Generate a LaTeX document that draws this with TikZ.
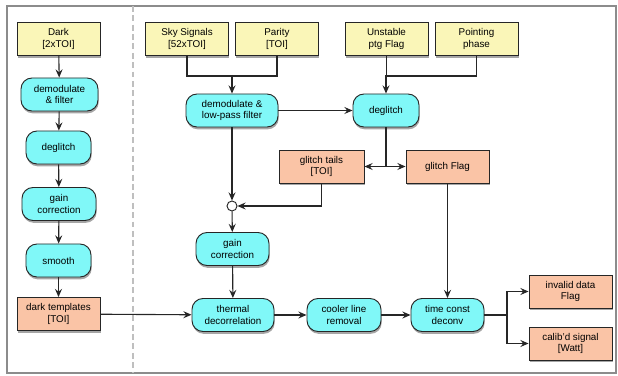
\documentclass[tikz,border=0pt]{standalone}
\usepackage{fontspec}
\setmainfont{Liberation Sans}
\usetikzlibrary{arrows.meta,shadows}

\definecolor{inyellow}{RGB}{250,246,184}
\definecolor{stepcyan}{RGB}{128,248,248}
\definecolor{outsalmon}{RGB}{250,196,166}

\tikzset{
  box/.style={draw=black!85, line width=0.8pt, align=center,
    font=\fontsize{8.4}{9.6}\selectfont, inner sep=1pt,
    minimum height=0.99cm,
    drop shadow={shadow xshift=0.6pt, shadow yshift=-2pt, opacity=0.35, fill=black}},
  inbox/.style={box, fill=inyellow, minimum width=2.49cm},
  outbox/.style={box, fill=outsalmon, minimum width=2.49cm},
  proc/.style={box, fill=stepcyan, rounded corners=0.33cm},
  link/.style={line width=0.95pt, black!85}
}

\begin{document}
\begin{tikzpicture}[x=0.03cm, y=-0.03cm, >={Stealth[length=7pt,width=6pt,inset=2.5pt]}]
\useasboundingbox (0,0) rectangle (618,376);
\draw[black!45, line width=1pt] (7,6) rectangle (616,373);
\draw[black!25, line width=0.9pt, dash pattern=on 5pt off 3pt] (133,6) -- (133,373);

% dark branch
\node[inbox]  (dark)   at (58.5, 39)    {Dark\\{[2xTOI]}};
\node[proc, minimum width=2.31cm] (demodL) at (59.5, 94.5)  {demodulate\\\& filter};
\node[proc, minimum width=1.95cm] (deglL)  at (58.5, 147.5) {deglitch};
\node[proc, minimum width=2.22cm] (gainL)  at (59, 204)     {gain\\correction};
\node[proc, minimum width=1.95cm] (smooth) at (58.5, 260.5) {smooth};
\node[outbox] (templ)  at (58.5, 314)   {dark templates\\{[TOI]}};

% sky branch
\node[inbox]  (sky)    at (187, 39)     {Sky Signals\\{[52xTOI]}};
\node[inbox]  (parity) at (277, 39)     {Parity\\{[TOI]}};
\node[inbox]  (ptg)    at (386.5, 39)   {Unstable\\ptg Flag};
\node[inbox]  (phase)  at (476.5, 39)   {Pointing\\phase};

\node[proc, minimum width=2.76cm] (demodR) at (232, 110.5)  {demodulate \&\\low-pass filter};
\node[proc, minimum width=1.98cm] (deglR)  at (386, 110.5)  {deglitch};
\node[outbox, minimum width=2.55cm] (tails) at (321.5, 166.5) {glitch tails\\{[TOI]}};
\node[outbox] (gflag)  at (447.5, 166.5) {glitch Flag};
\node[circle, draw=black!85, fill=white, line width=0.8pt, minimum size=0.3cm, inner sep=0pt] (sum) at (232, 206) {};
\node[proc, minimum width=2.19cm] (gainR)  at (232.5, 249)  {gain\\correction};
\node[proc, minimum width=2.46cm] (thermal) at (233, 315)   {thermal\\decorrelation};
\node[proc, minimum width=2.22cm] (cooler) at (344, 315)    {cooler line\\removal};
\node[proc, minimum width=2.19cm] (tcd)    at (447.5, 315)  {time const\\deconv};
\node[outbox] (invalid) at (570.5, 291.5) {invalid data\\Flag};
\node[outbox] (calib)   at (570.5, 343.5) {calib'd signal\\{[Watt]}};

\coordinate (skyjoin) at (232, 75);
\coordinate (ptgjoin) at (386, 75);
\coordinate (gjoin)   at (386, 166.5);
\coordinate (split)   at (507, 315);

\path[->, link] (dark)   edge (demodL);
\path[->, link] (demodL) edge (deglL);
\path[->, link] (deglL)  edge (gainL);
\path[->, link] (gainL)  edge (smooth);
\path[->, link] (smooth) edge (templ);
\path[->, link] (templ)  edge (thermal);

\draw[link] (sky.south) -- ++(0,20) -| (parity.south);
\path[->, link] (skyjoin) edge (demodR);
\draw[link] (ptg.south) -- ++(0,20) -| (phase.south);
\path[->, link] (ptgjoin) edge (deglR);

\path[->, link] (demodR) edge (deglR);
\path[->, link] (demodR) edge (sum);
\draw[link] (deglR) -- (gjoin);
\path[->, link] (gjoin)  edge (tails);
\path[->, link] (gjoin)  edge (gflag);
\draw[->, link] (tails.south) |- (sum.east);
\path[->, link] (sum)    edge (gainR);
\path[->, link] (gainR)  edge (thermal);
\path[->, link] (thermal) edge (cooler);
\path[->, link] (cooler) edge (tcd);
\path[->, link] (gflag)  edge (tcd);
\draw[link] (tcd) -- (split);
\draw[->, link] (split) |- (invalid);
\draw[->, link] (split) |- (calib);
\end{tikzpicture}
\end{document}
